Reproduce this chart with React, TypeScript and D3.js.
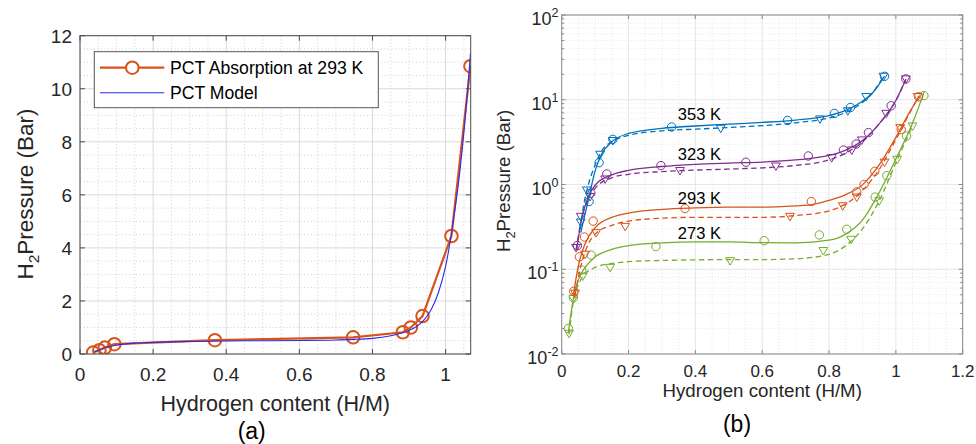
import React from 'react';
import * as d3 from 'd3';

const FONT = '"Liberation Sans", Arial, Helvetica, sans-serif';

// ---------- Panel (a) data ----------
const absX293 = [0.036, 0.053, 0.068, 0.094, 0.369, 0.747, 0.883, 0.905, 0.937, 1.016, 1.068];
const absY293 = [0.055, 0.14, 0.24, 0.37, 0.52, 0.63, 0.82, 1.0, 1.43, 4.45, 10.85];
const modelX = [0.04, 0.06, 0.1, 0.15, 0.2, 0.3, 0.4, 0.5, 0.6, 0.7, 0.75, 0.8, 0.85, 0.88, 0.9, 0.92, 0.94, 0.96, 0.98, 1.0, 1.02, 1.04, 1.06, 1.068];
const modelY = [0.08, 0.2, 0.33, 0.41, 0.44, 0.47, 0.49, 0.5, 0.51, 0.53, 0.55, 0.59, 0.69, 0.79, 0.89, 1.03, 1.27, 1.66, 2.3, 3.3, 4.9, 7.0, 9.9, 11.33];
const aXTicks = [0, 0.2, 0.4, 0.6, 0.8, 1];
const aXTickLabels = ['0', '0.2', '0.4', '0.6', '0.8', '1'];
const aYTicks = [0, 2, 4, 6, 8, 10, 12];
const aYTickLabels = ['0', '2', '4', '6', '8', '10', '12'];
const legendLabels = ['PCT Absorption at 293 K', 'PCT Model'];

// ---------- Panel (b) data ----------
const temps = ['353 K', '323 K', '293 K', '273 K'];
const colors = ['#0072BD', '#7E2F8E', '#D95319', '#77AC30'];
const labelX = [0.412, 0.412, 0.412, 0.412];
const labelY = [5.77, 1.95, 0.583, 0.2256];

// 353 K
const abs353X = [0.082, 0.112, 0.153, 0.329, 0.676, 0.816, 0.864, 0.966];
const abs353Y = [0.63, 1.81, 3.41, 4.77, 5.7, 6.9, 8.1, 18.9];
const des353X = [0.057, 0.075, 0.115, 0.153, 0.476, 0.773, 0.856, 0.911, 0.963];
const des353Y = [0.36, 0.86, 2.27, 3.3, 4.6, 5.93, 7.4, 10.9, 18.9];
const fitA353X = [0.057, 0.07, 0.08, 0.1, 0.12, 0.15, 0.2, 0.3, 0.4, 0.5, 0.6, 0.7, 0.8, 0.85, 0.9, 0.93, 0.966];
const fitA353Y = [0.27, 0.45, 0.66, 1.45, 2.3, 3.2, 4.0, 4.6, 4.9, 5.15, 5.4, 5.75, 6.5, 7.5, 9.6, 12, 19];
const fitD353X = [0.055, 0.065, 0.08, 0.1, 0.12, 0.15, 0.2, 0.3, 0.4, 0.5, 0.6, 0.7, 0.8, 0.85, 0.9, 0.93, 0.963];
const fitD353Y = [0.3, 0.55, 1.0, 1.7, 2.5, 3.2, 3.8, 4.3, 4.5, 4.7, 4.95, 5.35, 6.1, 7.1, 9.3, 12, 19];

// 323 K
const abs323X = [0.047, 0.087, 0.135, 0.297, 0.551, 0.738, 0.843, 0.881, 0.918, 0.986, 1.03];
const abs323Y = [0.19, 0.79, 1.33, 1.67, 1.83, 2.17, 2.55, 3.0, 4.1, 8.5, 17.6];
const des323X = [0.043, 0.057, 0.085, 0.13, 0.354, 0.641, 0.808, 0.868, 0.898, 0.971, 1.03];
const des323Y = [0.18, 0.42, 0.72, 1.16, 1.46, 1.65, 2.07, 2.55, 3.35, 6.9, 17.6];
const fitA323X = [0.045, 0.06, 0.08, 0.1, 0.15, 0.2, 0.3, 0.4, 0.5, 0.6, 0.7, 0.8, 0.85, 0.9, 0.95, 1.0, 1.03];
const fitA323Y = [0.17, 0.4, 0.72, 0.98, 1.3, 1.47, 1.63, 1.73, 1.79, 1.84, 1.95, 2.2, 2.55, 3.3, 5.2, 9.8, 17.5];
const fitD323X = [0.043, 0.06, 0.08, 0.1, 0.15, 0.2, 0.3, 0.4, 0.5, 0.6, 0.7, 0.8, 0.85, 0.9, 0.95, 1.0, 1.03];
const fitD323Y = [0.17, 0.4, 0.68, 0.9, 1.2, 1.32, 1.42, 1.48, 1.52, 1.57, 1.68, 1.95, 2.35, 3.2, 5.2, 9.8, 17.5];

// 293 K
const des293X = [0.04, 0.07, 0.103, 0.19, 0.683, 0.841, 0.883, 0.966, 1.013, 1.065];
const des293Y = [0.052, 0.15, 0.27, 0.32, 0.42, 0.56, 0.71, 1.83, 4.68, 10.9];
const fitA293X = [0.035, 0.05, 0.07, 0.1, 0.15, 0.2, 0.3, 0.4, 0.5, 0.6, 0.7, 0.75, 0.8, 0.85, 0.9, 0.95, 1.0, 1.04, 1.07];
const fitA293Y = [0.05, 0.11, 0.2, 0.31, 0.41, 0.46, 0.51, 0.53, 0.54, 0.54, 0.56, 0.58, 0.65, 0.76, 0.99, 1.7, 3.6, 7.0, 11.0];
const fitD293X = [0.04, 0.06, 0.08, 0.1, 0.15, 0.2, 0.3, 0.4, 0.5, 0.6, 0.7, 0.8, 0.85, 0.9, 0.95, 1.0, 1.04, 1.068];
const fitD293Y = [0.05, 0.12, 0.2, 0.26, 0.33, 0.37, 0.4, 0.41, 0.41, 0.41, 0.43, 0.49, 0.59, 0.85, 1.5, 3.4, 6.8, 11.0];

// 273 K
const abs273X = [0.02, 0.035, 0.06, 0.088, 0.282, 0.606, 0.771, 0.853, 0.938, 0.973, 1.032, 1.084];
const abs273Y = [0.02, 0.046, 0.098, 0.147, 0.185, 0.217, 0.254, 0.296, 0.71, 1.27, 3.73, 11.2];
const des273X = [0.022, 0.035, 0.063, 0.145, 0.504, 0.783, 0.866, 0.95, 1.004, 1.05];
const des273Y = [0.0175, 0.045, 0.083, 0.105, 0.126, 0.166, 0.225, 0.64, 1.98, 4.9];
const fitA273X = [0.02, 0.035, 0.05, 0.07, 0.1, 0.15, 0.2, 0.3, 0.4, 0.5, 0.6, 0.7, 0.8, 0.85, 0.9, 0.95, 1.0, 1.05, 1.085];
const fitA273Y = [0.018, 0.045, 0.075, 0.105, 0.14, 0.172, 0.19, 0.205, 0.21, 0.21, 0.206, 0.205, 0.22, 0.26, 0.38, 0.8, 2.0, 5.3, 12.5];
const fitD273X = [0.022, 0.035, 0.05, 0.07, 0.1, 0.15, 0.2, 0.3, 0.4, 0.5, 0.6, 0.7, 0.8, 0.85, 0.9, 0.95, 1.0, 1.05];
const fitD273Y = [0.017, 0.042, 0.066, 0.088, 0.105, 0.117, 0.123, 0.127, 0.129, 0.13, 0.13, 0.133, 0.15, 0.19, 0.3, 0.64, 1.8, 4.9];

const bXTicks = [0, 0.2, 0.4, 0.6, 0.8, 1, 1.2];
const bXTickLabels = ['0', '0.2', '0.4', '0.6', '0.8', '1', '1.2'];
const bYTicks = [0.01, 0.1, 1, 10, 100];
const bYTickExps = ['-2', '-1', '0', '1', '2'];

const zip = (xs: number[], ys: number[]): [number, number][] => xs.map((x, i) => [x, ys[i]]);

const seriesB = [
  { abs: zip(abs353X, abs353Y), des: zip(des353X, des353Y), fa: zip(fitA353X, fitA353Y), fd: zip(fitD353X, fitD353Y) },
  { abs: zip(abs323X, abs323Y), des: zip(des323X, des323Y), fa: zip(fitA323X, fitA323Y), fd: zip(fitD323X, fitD323Y) },
  { abs: zip(absX293, absY293), des: zip(des293X, des293Y), fa: zip(fitA293X, fitA293Y), fd: zip(fitD293X, fitD293Y) },
  { abs: zip(abs273X, abs273Y), des: zip(des273X, des273Y), fa: zip(fitA273X, fitA273Y), fd: zip(fitD273X, fitD273Y) },
];

export default function App() {
  // Panel (a) scales
  const xa = d3.scaleLinear().domain([0, 1.0687]).range([80, 470.7]);
  const ya = d3.scaleLinear().domain([0, 12]).range([354, 35.7]);
  // Panel (b) scales
  const xb = d3.scaleLinear().domain([0, 1.2]).range([561.7, 962.7]);
  const yb = d3.scaleLog().domain([0.01, 100]).range([354, 15]);

  const [aL, aR] = xa.range();
  const [aB, aT] = ya.range();
  const [bL, bR] = xb.range();
  const [bB, bT] = yb.range();

  const aMinorX = d3.range(0, 22).map(i => i * 0.05).filter(v => v <= 1.0687 && Math.abs(v / 0.2 - Math.round(v / 0.2)) > 1e-6);
  const aMinorY = d3.range(0, 25).map(i => i * 0.5).filter(v => v <= 12 && Math.abs(v / 2 - Math.round(v / 2)) > 1e-6);
  const bMinorX = d3.range(0, 25).map(i => i * 0.05).filter(v => v <= 1.2 && Math.abs(v / 0.2 - Math.round(v / 0.2)) > 1e-6);
  const bMinorY: number[] = [];
  [-2, -1, 0, 1].forEach(d => { for (let k = 2; k <= 9; k++) bMinorY.push(k * Math.pow(10, d)); });

  const lineA = d3.line<[number, number]>().x(d => xa(d[0])).y(d => ya(d[1]));
  const lineModel = d3.line<[number, number]>().x(d => xa(d[0])).y(d => ya(d[1])).curve(d3.curveMonotoneX);
  const lineB = d3.line<[number, number]>().x(d => xb(d[0])).y(d => yb(d[1])).curve(d3.curveMonotoneX);

  const tri = (cx: number, cy: number, r: number) =>
    `M${cx - r},${cy - r * 0.7}L${cx + r},${cy - r * 0.7}L${cx},${cy + r * 1.0}Z`;

  const absData = zip(absX293, absY293);
  const modelData = zip(modelX, modelY);

  const axisA = '#4a4a4a';
  const axisB = '#8a8a8a';

  return (
    <svg width={976} height={444} style={{ position: 'absolute', left: 0, top: 0, background: '#fff' }} fontFamily={FONT}>
      <defs>
        <clipPath id="clipA"><rect x={aL} y={aT} width={aR - aL} height={aB - aT} /></clipPath>
        <clipPath id="clipB"><rect x={bL} y={bT} width={bR - bL} height={bB - bT} /></clipPath>
      </defs>
      <rect x={0} y={0} width={976} height={444} fill="#fff" />

      {/* ================= Panel (a) ================= */}
      <rect x={aL} y={aT} width={aR - aL} height={aB - aT} fill="#fff" />
      {aMinorX.map((v, i) => (
        <line key={'amx' + i} x1={xa(v)} x2={xa(v)} y1={aT} y2={aB} stroke="#c4c4c4" strokeWidth={0.8} strokeDasharray="1,2.5" />
      ))}
      {aMinorY.map((v, i) => (
        <line key={'amy' + i} x1={aL} x2={aR} y1={ya(v)} y2={ya(v)} stroke="#c4c4c4" strokeWidth={0.8} strokeDasharray="1,2.5" />
      ))}
      {aXTicks.map((v, i) => (
        <line key={'agx' + i} x1={xa(v)} x2={xa(v)} y1={aT} y2={aB} stroke="#dadada" strokeWidth={1} />
      ))}
      {aYTicks.map((v, i) => (
        <line key={'agy' + i} x1={aL} x2={aR} y1={ya(v)} y2={ya(v)} stroke="#dadada" strokeWidth={1} />
      ))}
      {/* ticks */}
      {aXTicks.map((v, i) => (
        <g key={'atx' + i}>
          <line x1={xa(v)} x2={xa(v)} y1={aB} y2={aB - 5} stroke={axisA} />
          <line x1={xa(v)} x2={xa(v)} y1={aT} y2={aT + 5} stroke={axisA} />
          <text x={xa(v)} y={380.7} fontSize={19} textAnchor="middle" fill="#262626">{aXTickLabels[i]}</text>
        </g>
      ))}
      {aYTicks.map((v, i) => (
        <g key={'aty' + i}>
          <line x1={aL} x2={aL + 5} y1={ya(v)} y2={ya(v)} stroke={axisA} />
          <line x1={aR} x2={aR - 5} y1={ya(v)} y2={ya(v)} stroke={axisA} />
          <text x={72} y={ya(v) + 6.8} fontSize={19} textAnchor="end" fill="#262626">{aYTickLabels[i]}</text>
        </g>
      ))}
      <g clipPath="url(#clipA)">
        <path d={lineA(absData) || ''} fill="none" stroke="#D95319" strokeWidth={2.2} />
        {absData.map((d, i) => (
          <circle key={'ac' + i} cx={xa(d[0])} cy={ya(d[1])} r={6.3} fill="none" stroke="#D95319" strokeWidth={2} />
        ))}
        <path d={lineModel(modelData) || ''} fill="none" stroke="#2a2af2" strokeWidth={1.1} />
      </g>
      <rect x={aL} y={aT} width={aR - aL} height={aB - aT} fill="none" stroke={axisA} strokeWidth={1} />
      {/* Legend */}
      <rect x={94.3} y={51.7} width={284} height={56} fill="#fff" stroke="#555" strokeWidth={1} />
      <line x1={100} x2={164.3} y1={67.7} y2={67.7} stroke="#D95319" strokeWidth={2.2} />
      <circle cx={132.3} cy={67.7} r={6.3} fill="#fff" stroke="#D95319" strokeWidth={2} />
      <text x={170} y={74} fontSize={17.6} fill="#000">{legendLabels[0]}</text>
      <line x1={100} x2={164.3} y1={92.7} y2={92.7} stroke="#2a2af2" strokeWidth={1.1} />
      <text x={170} y={99} fontSize={17.6} fill="#000">{legendLabels[1]}</text>
      {/* axis titles */}
      <text x={275.3} y={410.7} fontSize={21.5} textAnchor="middle" fill="#262626">Hydrogen content (H/M)</text>
      <text transform="translate(33,194) rotate(-90)" fontSize={22.5} textAnchor="middle" fill="#262626">
        <tspan>H</tspan><tspan dy={6} fontSize={15.5}>2</tspan><tspan dy={-6}>Pressure (Bar)</tspan>
      </text>
      <text x={251.7} y={439} fontSize={23} textAnchor="middle" fill="#000">(a)</text>

      {/* ================= Panel (b) ================= */}
      <rect x={bL} y={bT} width={bR - bL} height={bB - bT} fill="#fff" />
      {bMinorX.map((v, i) => (
        <line key={'bmx' + i} x1={xb(v)} x2={xb(v)} y1={bT} y2={bB} stroke="#e2e2e2" strokeWidth={0.8} strokeDasharray="1,2" />
      ))}
      {bMinorY.map((v, i) => (
        <line key={'bmy' + i} x1={bL} x2={bR} y1={yb(v)} y2={yb(v)} stroke="#e2e2e2" strokeWidth={0.8} strokeDasharray="1,2" />
      ))}
      {bXTicks.map((v, i) => (
        <line key={'bgx' + i} x1={xb(v)} x2={xb(v)} y1={bT} y2={bB} stroke="#e6e6e6" strokeWidth={1} />
      ))}
      {bYTicks.map((v, i) => (
        <line key={'bgy' + i} x1={bL} x2={bR} y1={yb(v)} y2={yb(v)} stroke="#e6e6e6" strokeWidth={1} />
      ))}
      {bXTicks.map((v, i) => (
        <g key={'btx' + i}>
          <line x1={xb(v)} x2={xb(v)} y1={bB} y2={bB - 4} stroke={axisB} />
          <line x1={xb(v)} x2={xb(v)} y1={bT} y2={bT + 4} stroke={axisB} />
          <text x={xb(v)} y={376.7} fontSize={17} textAnchor="middle" fill="#262626">{bXTickLabels[i]}</text>
        </g>
      ))}
      {bMinorY.map((v, i) => (
        <g key={'bty' + i}>
          <line x1={bL} x2={bL + 2.5} y1={yb(v)} y2={yb(v)} stroke={axisB} />
          <line x1={bR} x2={bR - 2.5} y1={yb(v)} y2={yb(v)} stroke={axisB} />
        </g>
      ))}
      {bYTicks.map((v, i) => (
        <g key={'btyM' + i}>
          <line x1={bL} x2={bL + 4} y1={yb(v)} y2={yb(v)} stroke={axisB} />
          <line x1={bR} x2={bR - 4} y1={yb(v)} y2={yb(v)} stroke={axisB} />
          <text x={558.5} y={yb(v) + 10} fontSize={18} textAnchor="end" fill="#262626">
            <tspan>10</tspan><tspan dy={-8} fontSize={12.5}>{bYTickExps[i]}</tspan>
          </text>
        </g>
      ))}
      <g clipPath="url(#clipB)">
        {[3, 2, 1, 0].map(si => {
          const s = seriesB[si];
          const c = colors[si];
          return (
            <g key={'s' + si}>
              <path d={lineB(s.fd) || ''} fill="none" stroke={c} strokeWidth={1.3} strokeDasharray="5.5,3.5" />
              <path d={lineB(s.fa) || ''} fill="none" stroke={c} strokeWidth={1.3} />
              {s.abs.map((d, i) => (
                <circle key={'c' + i} cx={xb(d[0])} cy={yb(d[1])} r={4.2} fill="none" stroke={c} strokeWidth={1} />
              ))}
              {s.des.map((d, i) => (
                <path key={'t' + i} d={tri(xb(d[0]), yb(d[1]), 4.4)} fill="none" stroke={c} strokeWidth={1} />
              ))}
            </g>
          );
        })}
      </g>
      <rect x={bL} y={bT} width={bR - bL} height={bB - bT} fill="none" stroke={axisB} strokeWidth={1} />
      {temps.map((t, i) => (
        <text key={'lab' + i} x={xb(labelX[i])} y={yb(labelY[i])} fontSize={16.5} textAnchor="middle" fill="#000">{t}</text>
      ))}
      <text x={762.2} y={396.7} fontSize={18.7} textAnchor="middle" fill="#262626">Hydrogen content (H/M)</text>
      <text transform="translate(510,181) rotate(-90)" fontSize={18.7} textAnchor="middle" fill="#262626">
        <tspan>H</tspan><tspan dy={5} fontSize={13}>2</tspan><tspan dy={-5}>Pressure (Bar)</tspan>
      </text>
      <text x={737} y={432} fontSize={23} textAnchor="middle" fill="#000">(b)</text>
    </svg>
  );
}
